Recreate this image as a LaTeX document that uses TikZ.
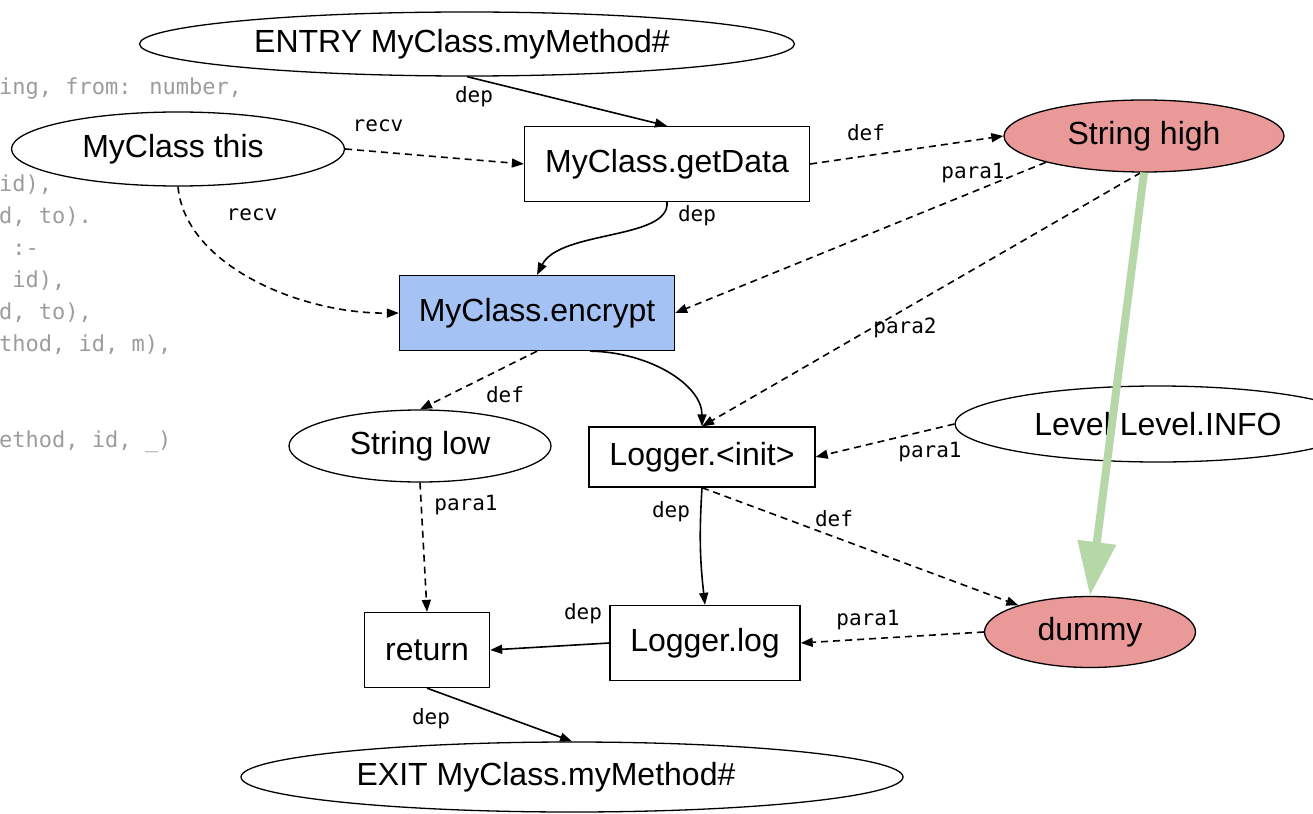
\documentclass[tikz,border=0pt]{standalone}
\usepackage{fontspec}
\setmainfont{Liberation Sans}
\newfontfamily\monofam{DejaVu Sans Mono}
\usetikzlibrary{arrows.meta,shapes.geometric}
\definecolor{hotred}{HTML}{EA9999}
\definecolor{callblue}{HTML}{A4C2F4}
\definecolor{taintgreen}{HTML}{B6D7A8}
\definecolor{codegrey}{HTML}{9C9C9C}
\tikzset{
  pdgbox/.style={rectangle, draw, line width=1.3pt, fill=white, inner sep=0pt,
                 font=\fontsize{32}{37}\selectfont},
  pdgell/.style={pdgbox, ellipse},
  pdgedge/.style={-{Triangle[length=12pt,width=9pt]}, line width=1.6pt},
  pdgdash/.style={pdgedge, dash pattern=on 7pt off 5pt},
  pdgtaint/.style={-{Triangle[length=54pt,width=37pt]}, draw=taintgreen,
                   line width=8pt},
  elabel/.style={font=\monofam\fontsize{21}{24}\selectfont, inner sep=0pt},
  codeline/.style={font=\monofam\fontsize{22}{26}\selectfont, text=codegrey,
                   inner sep=0pt, anchor=base west},
}

\begin{document}
\begin{tikzpicture}[x=1pt, y=-1pt]
  \useasboundingbox (0,0) rectangle (1313,813);
  \clip (0,0) rectangle (1313,813);

  % --- code listing behind the graph ---
  \node[codeline] (c0) at (-1, 95) {ing, from: number,};
  \node[codeline] (c3) at (-1,191) {id),};
  \node[codeline] (c4) at (-1,223) {d, to).};
  \node[codeline] (c5) at (-1,255) {\phantom{x}:-};
  \node[codeline] (c6) at (-1,287) {\phantom{x}id),};
  \node[codeline] (c7) at (-1,319) {d, to),};
  \node[codeline] (c8) at (-1,351) {thod, id, m),};
  \node[codeline] (c11) at (-1,447) {ethod, id, \_)};

  % --- graph nodes ---
  \node[pdgell, minimum width=655, minimum height=64] (entry) at (467, 44) {\hspace{-10pt}ENTRY MyClass.myMethod\#};
  \node[pdgell, minimum width=333, minimum height=74] (this)  at (178,149) {\hspace{-10pt}MyClass this};
  \node[pdgbox, minimum width=285, minimum height=75] (getdata) at (667,164) {MyClass.getData};
  \node[pdgell, fill=hotred, minimum width=280, minimum height=72] (high) at (1144,136) {String high};
  \node[pdgbox, fill=callblue, minimum width=275, minimum height=75] (encrypt) at (537,313) {MyClass.encrypt};
  \node[pdgell, minimum width=262, minimum height=72] (low)   at (420,446) {String low};
  \node[pdgbox, minimum width=226, minimum height=60] (init)  at (702,457) {Logger.<init>};
  \node[pdgell, minimum width=406, minimum height=76] (level) at (1158,424) {Level Level.INFO};
  \node[pdgell, fill=hotred, minimum width=211, minimum height=71] (dummy) at (1090,632) {dummy};
  \node[pdgbox, minimum width=125, minimum height=75] (ret)   at (427,650) {return};
  \node[pdgbox, minimum width=190, minimum height=75] (log)   at (705,643) {Logger.log};
  \node[pdgell, minimum width=662, minimum height=70] (exit)  at (572,777) {\hspace{-52pt}EXIT MyClass.myMethod\#};

  % --- edges ---
  \draw[pdgedge] (entry.south) -- (getdata.north);
  \draw[pdgdash] (this.east) -- (getdata.west);
  \draw[pdgdash] (this.south) .. controls (185,265) and (300,314) .. (encrypt.west);
  \draw[pdgdash] (getdata.east) -- (high.west);
  \draw[pdgedge] (getdata.south) .. controls (670,240) and (560,230) .. (encrypt.north);
  \draw[pdgdash] (high.-165) -- (encrypt.east);
  \draw[pdgdash] (high.-95) -- (init.north);
  \draw[pdgdash] (encrypt.south) -- (low.north);
  \draw[pdgedge] ([xshift=53pt]encrypt.south) .. controls (650,352) and (702,385) .. (init.north);
  \draw[pdgdash] (level.west) -- (init.east);
  \draw[pdgdash] (low.south) -- (ret.north);
  \draw[pdgedge] (init.south) to[bend right=5] (log.north);
  \draw[pdgdash] (init.south) -- (dummy);
  \draw[pdgdash] (dummy.west) -- (log.east);
  \draw[pdgedge] (log.west) -- (ret.east);
  \draw[pdgedge] (ret.south) -- (exit.north);
  \draw[pdgtaint] (high.south) -- (dummy.north);

  % --- edge labels ---
  \node[elabel] (l1)  at (474, 97) {dep};
  \node[elabel] (l2)  at (378,126) {recv};
  \node[elabel] (l3)  at (252,215) {recv};
  \node[elabel] (l4)  at (866,133) {def};
  \node[elabel] (l5)  at (697,216) {dep};
  \node[elabel] (l6)  at (973,173) {para1};
  \node[elabel] (l7)  at (905,328) {para2};
  \node[elabel] (l9)  at (505,395) {def};
  \node[elabel] (l11) at (930,452) {para1};
  \node[elabel] (l12) at (466,505) {para1};
  \node[elabel] (l13) at (671,512) {dep};
  \node[elabel] (l14) at (834,519) {def};
  \node[elabel] (l15) at (868,620) {para1};
  \node[elabel] (l16) at (583,614) {dep};
  \node[elabel] (l17) at (431,719) {dep};
\end{tikzpicture}
\end{document}
